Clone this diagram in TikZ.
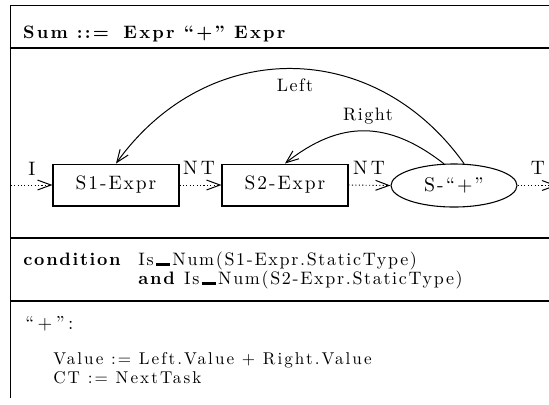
\documentclass[tikz,border=0pt]{standalone}
\usepackage{fontspec}
\setmainfont{lmroman10-regular.otf}[BoldFont=lmroman10-bold.otf, LetterSpace=8]
\newfontfamily\titlefam{lmroman10-bold.otf}[LetterSpace=12.5]
\newfontfamily\condfam{lmroman10-regular.otf}[BoldFont=lmroman10-bold.otf, LetterSpace=9.3]
\newfontfamily\bodyfam{lmroman10-regular.otf}[BoldFont=lmroman10-bold.otf, LetterSpace=12]
\newfontfamily\plusfam{lmroman10-regular.otf}[LetterSpace=18]
\newfontfamily\graphfam{lmroman10-regular.otf}[LetterSpace=10]
\newfontfamily\ntfam{lmroman10-regular.otf}[LetterSpace=16]
\usetikzlibrary{arrows.meta,shapes.geometric}
\newcommand\usc{\hspace{1.2pt}\rule[-0.3pt]{8pt}{1.2pt}\hspace{1.2pt}}
\begin{document}
\begin{tikzpicture}[x=0.5556pt,y=-0.5556pt,
  exprbox/.style={draw,line width=0.6pt,minimum width=70pt,minimum height=23.3pt,inner sep=0pt,
    font=\graphfam\fontsize{10.8}{13}\selectfont},
  ovalbox/.style={ellipse,draw,line width=0.6pt,minimum width=70pt,minimum height=23.9pt,inner sep=0pt,
    font=\graphfam\fontsize{11}{13}\selectfont},
  flowarrow/.style={line width=0.5pt,dash pattern=on 0.6pt off 1.3pt,-{Straight Barb[length=7.5pt,width=5.5pt,line width=0.55pt]}},
  curvearrow/.style={line width=0.55pt,-{Straight Barb[length=7pt,width=5.5pt]}},
  ruleline/.style={line width=0.8pt},
  lbl/.style={inner sep=0pt},
  ntlbl/.style={inner sep=0pt,font=\ntfam\fontsize{10.8}{13}\selectfont},
  txt/.style={inner sep=0pt,anchor=base west}]
\useasboundingbox (0,0) rectangle (549,404);
\fill[white] (0,0) rectangle (549,404);
% frame
\coordinate (tl) at (10.7,5.5);
\coordinate (tr) at (549,5.5);
\coordinate (bl) at (10.7,398);
\draw[line width=0.7pt] (bl) -- (tl) -- (tr);
\draw[ruleline] (10.7,48) -- (549,48);
\draw[ruleline] (10.7,238) -- (549,238);
\draw[ruleline] (10.7,301) -- (549,301);
% title
\node[txt,font=\titlefam] (title) at (22.7,38) {Sum ::=\hspace{8pt}Expr “+” Expr};
% graph
\node[exprbox] (S1) at (116,185) {S1-Expr};
\node[exprbox] (S2) at (285,185) {S2-Expr};
\node[ovalbox] (S3) at (454,185.5) {S-“+”};
\coordinate (in) at (10.7,185);
\coordinate (out) at (557,185.5);
\draw[flowarrow] (in) -- (S1.west);
\draw[flowarrow] (S1.east) -- (S2.west);
\draw[flowarrow] (S2.east) -- (S3.west);
\draw[flowarrow] (S3.east) -- (out);
\draw[curvearrow] (S3.65) .. controls (374,37) and (207,37) .. (S1.north);
\draw[curvearrow] (S3.115) .. controls (388,120) and (340,120) .. (S2.north);
\node[ntlbl] (lI) at (32,169) {I};
\node[ntlbl] (lNT1) at (199,168) {NT};
\node[ntlbl] (lNT2) at (369,168) {NT};
\node[ntlbl] (lT) at (538,168) {T};
\node[lbl] (lLeft) at (295,85) {Left};
\node[lbl] (lRight) at (368,116) {Right};
% condition
\node[txt,font=\condfam] (cond) at (23,265) {\bfseries condition};
\node[txt,font=\condfam] (c1) at (138,265) {Is\usc Num(S1-Expr.StaticType)};
\node[txt,font=\condfam] (c2) at (138,284) {\textbf{and} Is\usc Num(S2-Expr.StaticType)};
% action
\node[txt,font=\plusfam\fontsize{10.5}{12}\selectfont] (plus) at (25,329) {“+”:};
\node[txt,font=\bodyfam\fontsize{9.5}{11}\selectfont] (v) at (53,364) {Value := Left.Value + Right.Value};
\node[txt,font=\bodyfam\fontsize{9.5}{11}\selectfont] (ct) at (53,383) {CT := NextTask};
\end{tikzpicture}
\end{document}
